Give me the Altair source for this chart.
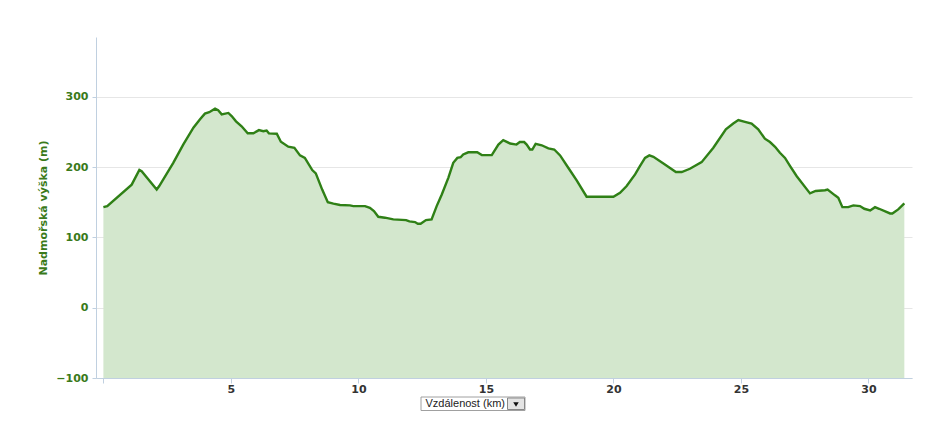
import altair as alt
import pandas as pd

# distance along route (km)
km = [0.0, 0.15, 1.11, 1.41, 1.5, 2.09, 2.19, 2.74, 3.13, 3.53, 3.79, 3.98, 4.15, 4.38, 4.5,
      4.64, 4.9, 5.03, 5.2, 5.42, 5.66, 5.88, 6.1, 6.27, 6.4, 6.49, 6.8, 6.96, 7.25, 7.49,
      7.71, 7.9, 8.19, 8.33, 8.58, 8.8, 9.02, 9.28, 9.67, 9.8, 10.26, 10.45, 10.61, 10.78,
      11.04, 11.37, 11.87, 12.0, 12.22, 12.33, 12.44, 12.65, 12.87, 13.07, 13.27, 13.53,
      13.72, 13.88, 14.01, 14.11, 14.31, 14.66, 14.84, 15.23, 15.49, 15.68, 15.95, 16.2,
      16.33, 16.5, 16.6, 16.73, 16.82, 16.95, 17.19, 17.45, 17.68, 17.91, 18.23, 18.56,
      18.95, 20.0, 20.26, 20.52, 20.85, 21.04, 21.24, 21.41, 21.57, 22.02, 22.45, 22.68,
      23.0, 23.46, 23.92, 24.41, 24.7, 24.9, 25.16, 25.42, 25.68, 25.94, 26.14, 26.34,
      26.53, 26.73, 26.93, 27.19, 27.71, 27.93, 28.3, 28.4, 28.69, 28.82, 28.98, 29.21,
      29.41, 29.67, 29.84, 30.07, 30.26, 30.42, 30.85, 30.94, 31.17, 31.41]

# elevation (m)
elev = [143, 144.5, 175, 196, 194, 168, 173, 206, 232, 256, 268, 276, 278, 283, 281,
        275, 277, 272.5, 265, 258, 248, 248, 252.6, 251, 252, 248, 247.4, 236, 229, 227.5,
        216.6, 213, 195.7, 191, 168, 150, 148, 146, 145.5, 144.5, 144.5, 142, 137.4, 129.3,
        128, 125.6, 124.6, 122.7, 121.8, 119.4, 119.4, 124.6, 125.6, 144.5, 161, 185,
        206, 213, 214, 218, 221, 221, 217, 217, 232, 238.4, 233.5, 232,
        235.6, 235.6, 232, 225, 225, 233, 231, 226.6, 225, 216.6, 199, 181,
        157.8, 157.8, 163.4, 173, 189.6, 201.4, 213, 216.6, 214.6, 203.8, 193, 193,
        197.6, 207, 227.5, 253.6, 262, 266.9, 264.4, 262, 253.6, 240.3, 235.6, 228.9,
        220.3, 213, 201.4, 187, 162.6, 166, 167, 168, 159.8, 156.3, 143, 143,
        145.5, 144.5, 140.7, 138.4, 143, 140.7, 134, 134, 139.8, 148.3]

x_ticks = [0, 5, 10, 15, 20, 25, 30]
y_ticks = [-100, 0, 100, 200, 300]

df = pd.DataFrame({"km": km, "elev": elev})

W, H = 816, 341
GREEN = "#3a7a1a"
AXIS = "#c0d0e0"

x_enc = alt.X(
    "km:Q",
    scale=alt.Scale(domain=[-0.29, 31.71], nice=False, zero=False),
    axis=alt.Axis(
        values=x_ticks, title=None, grid=False,
        labelExpr="datum.value == 0 ? '' : datum.label",
        labelFont="DejaVu Sans", labelFontWeight="bold", labelFontSize=11,
        labelColor="#333333", labelPadding=0, tickSize=5, tickColor=AXIS,
        domainColor=AXIS,
    ),
)
y_enc = alt.Y(
    "elev:Q",
    scale=alt.Scale(domain=[-100, 385], nice=False, zero=False),
    axis=alt.Axis(
        values=y_ticks, title="Nadmořská výška (m)",
        gridColor="#e6e6e6", grid=True,
        labelFont="DejaVu Sans", labelFontWeight="bold", labelFontSize=11,
        labelColor=GREEN, labelPadding=4, tickSize=4, tickColor=AXIS,
        domainColor=AXIS,
        titleFont="DejaVu Sans", titleFontWeight="bold", titleFontSize=11,
        titleColor=GREEN, titleX=-53, titleY=H / 2, titleAngle=-90,
        titleAlign="center", titleBaseline="middle",
    ),
)

area = alt.Chart(df).mark_area(color="#d3e7cd", opacity=1).encode(
    x=x_enc, y=y_enc, y2=alt.datum(-100)
)
line = alt.Chart(df).mark_line(color="#2f8016", strokeWidth=2.4).encode(
    x="km:Q", y="elev:Q"
)

one = pd.DataFrame({"a": [0]})
box = alt.Chart(one).mark_rect(fill="white", stroke="#a0a0a0", strokeWidth=1).encode(
    x=alt.value(325), x2=alt.value(429), y=alt.value(360), y2=alt.value(373.5)
)
label = alt.Chart(one).mark_text(
    text="Vzdálenost (km)", font="Liberation Sans", fontSize=11, color="#222222",
    align="left", baseline="middle",
).encode(x=alt.value(329.5), y=alt.value(367))
button = alt.Chart(one).mark_rect(fill="#e4e4e4", stroke="#888888", strokeWidth=1).encode(
    x=alt.value(411.5), x2=alt.value(428.5), y=alt.value(361), y2=alt.value(372.5)
)
arrow = alt.Chart(one).mark_point(
    shape="triangle-down", filled=True, color="#111111", size=30, opacity=1
).encode(x=alt.value(420), y=alt.value(367.5))

chart = alt.layer(area, line, box, label, button, arrow).properties(
    width=W, height=H,
    autosize=alt.AutoSizeParams(type="none"),
    padding={"left": 88, "top": 29, "right": 20, "bottom": 45},
).configure(background="white").configure_view(stroke=None, strokeWidth=0)

chart.save("out.html", embed_options={"renderer": "svg", "actions": False})
